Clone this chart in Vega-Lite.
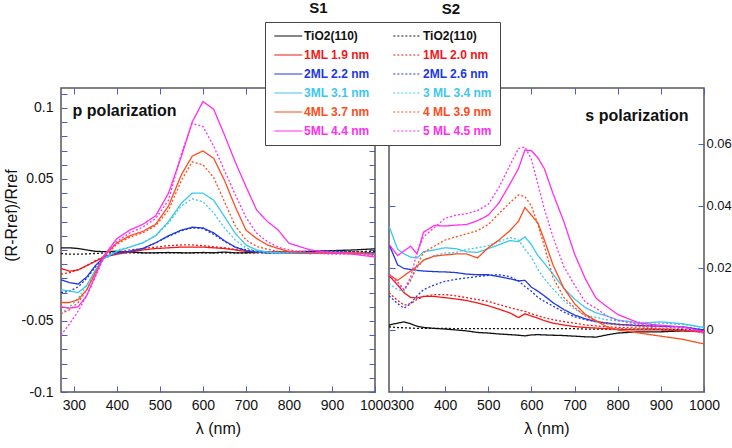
{
"$schema":"https://vega.github.io/schema/vega-lite/v6.json",
"padding":{"left":2,"top":0,"right":0,"bottom":0},
"background":"white",
"config":{"font":"Liberation Sans","view":{"stroke":"#555","strokeWidth":1.5},
"axis":{"labelFont":"Liberation Sans","labelFontSize":14,"labelColor":"#111","titleFont":"Liberation Sans","titleFontSize":16,"titleFontWeight":"normal","titleColor":"#111","tickColor":"#4a5ad8","tickSize":-6,"tickWidth":1,"domain":false,"grid":false,"labelFlush":false,"labelOverlap":false},
"text":{"font":"Liberation Sans","color":"#111"}},
"datasets":{
"p":[
{"s":"TiO2(110)","x":270,"y":0.0015},{"s":"TiO2(110)","x":290,"y":0.0015},{"s":"TiO2(110)","x":310,"y":0.001},{"s":"TiO2(110)","x":330,"y":0},{"s":"TiO2(110)","x":350,"y":-0.001},{"s":"TiO2(110)","x":370,"y":-0.0012},{"s":"TiO2(110)","x":400,"y":-0.001},{"s":"TiO2(110)","x":430,"y":-0.0015},{"s":"TiO2(110)","x":460,"y":-0.002},{"s":"TiO2(110)","x":490,"y":-0.002},{"s":"TiO2(110)","x":520,"y":-0.0018},{"s":"TiO2(110)","x":550,"y":-0.002},{"s":"TiO2(110)","x":575,"y":-0.002},{"s":"TiO2(110)","x":600,"y":-0.0018},{"s":"TiO2(110)","x":625,"y":-0.002},{"s":"TiO2(110)","x":650,"y":-0.0015},{"s":"TiO2(110)","x":675,"y":-0.002},{"s":"TiO2(110)","x":700,"y":-0.002},{"s":"TiO2(110)","x":725,"y":-0.0018},{"s":"TiO2(110)","x":750,"y":-0.0015},{"s":"TiO2(110)","x":775,"y":-0.0015},{"s":"TiO2(110)","x":800,"y":-0.0012},{"s":"TiO2(110)","x":850,"y":-0.001},{"s":"TiO2(110)","x":900,"y":-0.0005},{"s":"TiO2(110)","x":950,"y":0},{"s":"TiO2(110)","x":1000,"y":0.0008},
{"s":"TiO2(110) ","x":270,"y":-0.0025},{"s":"TiO2(110) ","x":290,"y":-0.003},{"s":"TiO2(110) ","x":310,"y":-0.003},{"s":"TiO2(110) ","x":330,"y":-0.0028},{"s":"TiO2(110) ","x":350,"y":-0.0025},{"s":"TiO2(110) ","x":370,"y":-0.0022},{"s":"TiO2(110) ","x":400,"y":-0.002},{"s":"TiO2(110) ","x":430,"y":-0.002},{"s":"TiO2(110) ","x":460,"y":-0.002},{"s":"TiO2(110) ","x":490,"y":-0.002},{"s":"TiO2(110) ","x":520,"y":-0.002},{"s":"TiO2(110) ","x":550,"y":-0.0021},{"s":"TiO2(110) ","x":575,"y":-0.002},{"s":"TiO2(110) ","x":600,"y":-0.002},{"s":"TiO2(110) ","x":625,"y":-0.002},{"s":"TiO2(110) ","x":650,"y":-0.0021},{"s":"TiO2(110) ","x":675,"y":-0.002},{"s":"TiO2(110) ","x":700,"y":-0.002},{"s":"TiO2(110) ","x":725,"y":-0.002},{"s":"TiO2(110) ","x":750,"y":-0.002},{"s":"TiO2(110) ","x":775,"y":-0.002},{"s":"TiO2(110) ","x":800,"y":-0.0019},{"s":"TiO2(110) ","x":850,"y":-0.0018},{"s":"TiO2(110) ","x":900,"y":-0.0015},{"s":"TiO2(110) ","x":950,"y":-0.0012},{"s":"TiO2(110) ","x":1000,"y":-0.001},
{"s":"1ML 1.9 nm","x":270,"y":-0.013},{"s":"1ML 1.9 nm","x":290,"y":-0.015},{"s":"1ML 1.9 nm","x":310,"y":-0.014},{"s":"1ML 1.9 nm","x":330,"y":-0.011},{"s":"1ML 1.9 nm","x":350,"y":-0.008},{"s":"1ML 1.9 nm","x":370,"y":-0.005},{"s":"1ML 1.9 nm","x":400,"y":-0.003},{"s":"1ML 1.9 nm","x":430,"y":-0.0015},{"s":"1ML 1.9 nm","x":460,"y":0},{"s":"1ML 1.9 nm","x":490,"y":0.001},{"s":"1ML 1.9 nm","x":520,"y":0.0015},{"s":"1ML 1.9 nm","x":550,"y":0.002},{"s":"1ML 1.9 nm","x":575,"y":0.002},{"s":"1ML 1.9 nm","x":600,"y":0.002},{"s":"1ML 1.9 nm","x":625,"y":0.0015},{"s":"1ML 1.9 nm","x":650,"y":0.001},{"s":"1ML 1.9 nm","x":675,"y":0},{"s":"1ML 1.9 nm","x":700,"y":-0.001},{"s":"1ML 1.9 nm","x":725,"y":-0.0015},{"s":"1ML 1.9 nm","x":750,"y":-0.002},{"s":"1ML 1.9 nm","x":775,"y":-0.0015},{"s":"1ML 1.9 nm","x":800,"y":-0.002},{"s":"1ML 1.9 nm","x":850,"y":-0.002},{"s":"1ML 1.9 nm","x":900,"y":-0.002},{"s":"1ML 1.9 nm","x":950,"y":-0.002},{"s":"1ML 1.9 nm","x":1000,"y":-0.003},
{"s":"1ML 2.0 nm","x":270,"y":-0.017},{"s":"1ML 2.0 nm","x":290,"y":-0.016},{"s":"1ML 2.0 nm","x":310,"y":-0.014},{"s":"1ML 2.0 nm","x":330,"y":-0.011},{"s":"1ML 2.0 nm","x":350,"y":-0.0075},{"s":"1ML 2.0 nm","x":370,"y":-0.0045},{"s":"1ML 2.0 nm","x":400,"y":-0.0015},{"s":"1ML 2.0 nm","x":430,"y":0},{"s":"1ML 2.0 nm","x":460,"y":0.001},{"s":"1ML 2.0 nm","x":490,"y":0.002},{"s":"1ML 2.0 nm","x":520,"y":0.003},{"s":"1ML 2.0 nm","x":550,"y":0.0035},{"s":"1ML 2.0 nm","x":575,"y":0.0035},{"s":"1ML 2.0 nm","x":600,"y":0.003},{"s":"1ML 2.0 nm","x":625,"y":0.0022},{"s":"1ML 2.0 nm","x":650,"y":0.0015},{"s":"1ML 2.0 nm","x":675,"y":0.0005},{"s":"1ML 2.0 nm","x":700,"y":-0.0005},{"s":"1ML 2.0 nm","x":725,"y":-0.001},{"s":"1ML 2.0 nm","x":750,"y":-0.0015},{"s":"1ML 2.0 nm","x":775,"y":-0.0015},{"s":"1ML 2.0 nm","x":800,"y":-0.0015},{"s":"1ML 2.0 nm","x":850,"y":-0.001},{"s":"1ML 2.0 nm","x":900,"y":-0.001},{"s":"1ML 2.0 nm","x":950,"y":-0.0015},{"s":"1ML 2.0 nm","x":1000,"y":-0.002},
{"s":"2ML 2.2 nm","x":270,"y":-0.021},{"s":"2ML 2.2 nm","x":290,"y":-0.023},{"s":"2ML 2.2 nm","x":310,"y":-0.024},{"s":"2ML 2.2 nm","x":330,"y":-0.019},{"s":"2ML 2.2 nm","x":350,"y":-0.011},{"s":"2ML 2.2 nm","x":370,"y":-0.005},{"s":"2ML 2.2 nm","x":400,"y":-0.002},{"s":"2ML 2.2 nm","x":430,"y":-0.001},{"s":"2ML 2.2 nm","x":460,"y":0.001},{"s":"2ML 2.2 nm","x":490,"y":0.005},{"s":"2ML 2.2 nm","x":520,"y":0.01},{"s":"2ML 2.2 nm","x":550,"y":0.014},{"s":"2ML 2.2 nm","x":575,"y":0.016},{"s":"2ML 2.2 nm","x":600,"y":0.0155},{"s":"2ML 2.2 nm","x":625,"y":0.012},{"s":"2ML 2.2 nm","x":650,"y":0.0065},{"s":"2ML 2.2 nm","x":675,"y":0.002},{"s":"2ML 2.2 nm","x":700,"y":-0.0005},{"s":"2ML 2.2 nm","x":725,"y":-0.0015},{"s":"2ML 2.2 nm","x":750,"y":-0.002},{"s":"2ML 2.2 nm","x":775,"y":-0.002},{"s":"2ML 2.2 nm","x":800,"y":-0.002},{"s":"2ML 2.2 nm","x":850,"y":-0.0025},{"s":"2ML 2.2 nm","x":900,"y":-0.002},{"s":"2ML 2.2 nm","x":950,"y":-0.002},{"s":"2ML 2.2 nm","x":1000,"y":-0.002},
{"s":"2ML 2.6 nm","x":270,"y":-0.03},{"s":"2ML 2.6 nm","x":290,"y":-0.029},{"s":"2ML 2.6 nm","x":310,"y":-0.026},{"s":"2ML 2.6 nm","x":330,"y":-0.02},{"s":"2ML 2.6 nm","x":350,"y":-0.012},{"s":"2ML 2.6 nm","x":370,"y":-0.006},{"s":"2ML 2.6 nm","x":400,"y":-0.002},{"s":"2ML 2.6 nm","x":430,"y":-0.001},{"s":"2ML 2.6 nm","x":460,"y":0.001},{"s":"2ML 2.6 nm","x":490,"y":0.005},{"s":"2ML 2.6 nm","x":520,"y":0.0095},{"s":"2ML 2.6 nm","x":550,"y":0.0135},{"s":"2ML 2.6 nm","x":575,"y":0.0155},{"s":"2ML 2.6 nm","x":600,"y":0.015},{"s":"2ML 2.6 nm","x":625,"y":0.011},{"s":"2ML 2.6 nm","x":650,"y":0.006},{"s":"2ML 2.6 nm","x":675,"y":0.002},{"s":"2ML 2.6 nm","x":700,"y":0},{"s":"2ML 2.6 nm","x":725,"y":-0.001},{"s":"2ML 2.6 nm","x":750,"y":-0.0015},{"s":"2ML 2.6 nm","x":775,"y":-0.0015},{"s":"2ML 2.6 nm","x":800,"y":-0.0015},{"s":"2ML 2.6 nm","x":850,"y":-0.001},{"s":"2ML 2.6 nm","x":900,"y":-0.0005},{"s":"2ML 2.6 nm","x":950,"y":-0.0015},{"s":"2ML 2.6 nm","x":1000,"y":-0.002},
{"s":"3ML 3.1 nm","x":270,"y":-0.028},{"s":"3ML 3.1 nm","x":290,"y":-0.029},{"s":"3ML 3.1 nm","x":310,"y":-0.03},{"s":"3ML 3.1 nm","x":330,"y":-0.025},{"s":"3ML 3.1 nm","x":350,"y":-0.014},{"s":"3ML 3.1 nm","x":370,"y":-0.006},{"s":"3ML 3.1 nm","x":400,"y":-0.001},{"s":"3ML 3.1 nm","x":430,"y":0.002},{"s":"3ML 3.1 nm","x":460,"y":0.005},{"s":"3ML 3.1 nm","x":490,"y":0.01},{"s":"3ML 3.1 nm","x":520,"y":0.02},{"s":"3ML 3.1 nm","x":550,"y":0.033},{"s":"3ML 3.1 nm","x":575,"y":0.04},{"s":"3ML 3.1 nm","x":600,"y":0.04},{"s":"3ML 3.1 nm","x":625,"y":0.035},{"s":"3ML 3.1 nm","x":650,"y":0.0235},{"s":"3ML 3.1 nm","x":675,"y":0.0117},{"s":"3ML 3.1 nm","x":700,"y":0.0035},{"s":"3ML 3.1 nm","x":725,"y":0},{"s":"3ML 3.1 nm","x":750,"y":-0.0015},{"s":"3ML 3.1 nm","x":775,"y":-0.002},{"s":"3ML 3.1 nm","x":800,"y":-0.002},{"s":"3ML 3.1 nm","x":850,"y":-0.002},{"s":"3ML 3.1 nm","x":900,"y":-0.002},{"s":"3ML 3.1 nm","x":950,"y":-0.002},{"s":"3ML 3.1 nm","x":1000,"y":-0.003},
{"s":"3 ML 3.4 nm","x":270,"y":-0.045},{"s":"3 ML 3.4 nm","x":290,"y":-0.04},{"s":"3 ML 3.4 nm","x":310,"y":-0.034},{"s":"3 ML 3.4 nm","x":330,"y":-0.025},{"s":"3 ML 3.4 nm","x":350,"y":-0.015},{"s":"3 ML 3.4 nm","x":370,"y":-0.006},{"s":"3 ML 3.4 nm","x":400,"y":0},{"s":"3 ML 3.4 nm","x":430,"y":0.002},{"s":"3 ML 3.4 nm","x":460,"y":0.005},{"s":"3 ML 3.4 nm","x":490,"y":0.01},{"s":"3 ML 3.4 nm","x":520,"y":0.019},{"s":"3 ML 3.4 nm","x":550,"y":0.031},{"s":"3 ML 3.4 nm","x":575,"y":0.036},{"s":"3 ML 3.4 nm","x":600,"y":0.034},{"s":"3 ML 3.4 nm","x":625,"y":0.026},{"s":"3 ML 3.4 nm","x":650,"y":0.0155},{"s":"3 ML 3.4 nm","x":675,"y":0.007},{"s":"3 ML 3.4 nm","x":700,"y":0.0015},{"s":"3 ML 3.4 nm","x":725,"y":-0.001},{"s":"3 ML 3.4 nm","x":750,"y":-0.002},{"s":"3 ML 3.4 nm","x":775,"y":-0.002},{"s":"3 ML 3.4 nm","x":800,"y":-0.0015},{"s":"3 ML 3.4 nm","x":850,"y":-0.002},{"s":"3 ML 3.4 nm","x":900,"y":-0.0015},{"s":"3 ML 3.4 nm","x":950,"y":-0.002},{"s":"3 ML 3.4 nm","x":1000,"y":-0.003},
{"s":"4ML 3.7 nm","x":270,"y":-0.037},{"s":"4ML 3.7 nm","x":290,"y":-0.037},{"s":"4ML 3.7 nm","x":310,"y":-0.035},{"s":"4ML 3.7 nm","x":330,"y":-0.028},{"s":"4ML 3.7 nm","x":350,"y":-0.016},{"s":"4ML 3.7 nm","x":370,"y":-0.004},{"s":"4ML 3.7 nm","x":400,"y":0.005},{"s":"4ML 3.7 nm","x":430,"y":0.01},{"s":"4ML 3.7 nm","x":460,"y":0.013},{"s":"4ML 3.7 nm","x":490,"y":0.018},{"s":"4ML 3.7 nm","x":520,"y":0.031},{"s":"4ML 3.7 nm","x":550,"y":0.053},{"s":"4ML 3.7 nm","x":575,"y":0.066},{"s":"4ML 3.7 nm","x":600,"y":0.0697},{"s":"4ML 3.7 nm","x":625,"y":0.0645},{"s":"4ML 3.7 nm","x":650,"y":0.049},{"s":"4ML 3.7 nm","x":675,"y":0.0305},{"s":"4ML 3.7 nm","x":700,"y":0.014},{"s":"4ML 3.7 nm","x":725,"y":0.008},{"s":"4ML 3.7 nm","x":750,"y":0.0035},{"s":"4ML 3.7 nm","x":775,"y":0.001},{"s":"4ML 3.7 nm","x":800,"y":-0.001},{"s":"4ML 3.7 nm","x":850,"y":-0.002},{"s":"4ML 3.7 nm","x":900,"y":-0.002},{"s":"4ML 3.7 nm","x":950,"y":-0.002},{"s":"4ML 3.7 nm","x":1000,"y":-0.003},
{"s":"4 ML 3.9 nm","x":270,"y":-0.045},{"s":"4 ML 3.9 nm","x":290,"y":-0.042},{"s":"4 ML 3.9 nm","x":310,"y":-0.037},{"s":"4 ML 3.9 nm","x":330,"y":-0.028},{"s":"4 ML 3.9 nm","x":350,"y":-0.016},{"s":"4 ML 3.9 nm","x":370,"y":-0.005},{"s":"4 ML 3.9 nm","x":400,"y":0.004},{"s":"4 ML 3.9 nm","x":430,"y":0.009},{"s":"4 ML 3.9 nm","x":460,"y":0.012},{"s":"4 ML 3.9 nm","x":490,"y":0.017},{"s":"4 ML 3.9 nm","x":520,"y":0.028},{"s":"4 ML 3.9 nm","x":550,"y":0.049},{"s":"4 ML 3.9 nm","x":575,"y":0.062},{"s":"4 ML 3.9 nm","x":600,"y":0.06},{"s":"4 ML 3.9 nm","x":625,"y":0.051},{"s":"4 ML 3.9 nm","x":650,"y":0.034},{"s":"4 ML 3.9 nm","x":675,"y":0.017},{"s":"4 ML 3.9 nm","x":700,"y":0.007},{"s":"4 ML 3.9 nm","x":725,"y":0.0025},{"s":"4 ML 3.9 nm","x":750,"y":0.0005},{"s":"4 ML 3.9 nm","x":775,"y":-0.001},{"s":"4 ML 3.9 nm","x":800,"y":-0.0015},{"s":"4 ML 3.9 nm","x":850,"y":-0.002},{"s":"4 ML 3.9 nm","x":900,"y":-0.002},{"s":"4 ML 3.9 nm","x":950,"y":-0.0025},{"s":"4 ML 3.9 nm","x":1000,"y":-0.003},
{"s":"5ML 4.4 nm","x":270,"y":-0.04},{"s":"5ML 4.4 nm","x":290,"y":-0.041},{"s":"5ML 4.4 nm","x":310,"y":-0.04},{"s":"5ML 4.4 nm","x":330,"y":-0.032},{"s":"5ML 4.4 nm","x":350,"y":-0.018},{"s":"5ML 4.4 nm","x":370,"y":-0.004},{"s":"5ML 4.4 nm","x":400,"y":0.008},{"s":"5ML 4.4 nm","x":430,"y":0.014},{"s":"5ML 4.4 nm","x":460,"y":0.018},{"s":"5ML 4.4 nm","x":490,"y":0.024},{"s":"5ML 4.4 nm","x":520,"y":0.04},{"s":"5ML 4.4 nm","x":550,"y":0.066},{"s":"5ML 4.4 nm","x":575,"y":0.09},{"s":"5ML 4.4 nm","x":600,"y":0.1045},{"s":"5ML 4.4 nm","x":625,"y":0.099},{"s":"5ML 4.4 nm","x":650,"y":0.081},{"s":"5ML 4.4 nm","x":675,"y":0.062},{"s":"5ML 4.4 nm","x":700,"y":0.0446},{"s":"5ML 4.4 nm","x":725,"y":0.028},{"s":"5ML 4.4 nm","x":750,"y":0.02},{"s":"5ML 4.4 nm","x":775,"y":0.014},{"s":"5ML 4.4 nm","x":800,"y":0.0047},{"s":"5ML 4.4 nm","x":850,"y":0},{"s":"5ML 4.4 nm","x":900,"y":-0.002},{"s":"5ML 4.4 nm","x":950,"y":-0.003},{"s":"5ML 4.4 nm","x":1000,"y":-0.005},
{"s":"5 ML 4.5 nm","x":270,"y":-0.06},{"s":"5 ML 4.5 nm","x":290,"y":-0.052},{"s":"5 ML 4.5 nm","x":310,"y":-0.043},{"s":"5 ML 4.5 nm","x":330,"y":-0.032},{"s":"5 ML 4.5 nm","x":350,"y":-0.019},{"s":"5 ML 4.5 nm","x":370,"y":-0.005},{"s":"5 ML 4.5 nm","x":400,"y":0.006},{"s":"5 ML 4.5 nm","x":430,"y":0.012},{"s":"5 ML 4.5 nm","x":460,"y":0.016},{"s":"5 ML 4.5 nm","x":490,"y":0.022},{"s":"5 ML 4.5 nm","x":520,"y":0.035},{"s":"5 ML 4.5 nm","x":550,"y":0.068},{"s":"5 ML 4.5 nm","x":575,"y":0.089},{"s":"5 ML 4.5 nm","x":600,"y":0.087},{"s":"5 ML 4.5 nm","x":625,"y":0.073},{"s":"5 ML 4.5 nm","x":650,"y":0.056},{"s":"5 ML 4.5 nm","x":675,"y":0.039},{"s":"5 ML 4.5 nm","x":700,"y":0.023},{"s":"5 ML 4.5 nm","x":725,"y":0.0117},{"s":"5 ML 4.5 nm","x":750,"y":0.0059},{"s":"5 ML 4.5 nm","x":775,"y":0.002},{"s":"5 ML 4.5 nm","x":800,"y":0},{"s":"5 ML 4.5 nm","x":850,"y":-0.002},{"s":"5 ML 4.5 nm","x":900,"y":-0.003},{"s":"5 ML 4.5 nm","x":950,"y":-0.003},{"s":"5 ML 4.5 nm","x":1000,"y":-0.004}
],
"s":[
{"s":"TiO2(110)","x":270,"y":0.0016},{"s":"TiO2(110)","x":290,"y":0.0022},{"s":"TiO2(110)","x":305,"y":0.0026},{"s":"TiO2(110)","x":320,"y":0.002},{"s":"TiO2(110)","x":335,"y":0.0012},{"s":"TiO2(110)","x":350,"y":0.0008},{"s":"TiO2(110)","x":375,"y":0.0005},{"s":"TiO2(110)","x":400,"y":0.0003},{"s":"TiO2(110)","x":425,"y":0},{"s":"TiO2(110)","x":450,"y":-0.0003},{"s":"TiO2(110)","x":475,"y":-0.0008},{"s":"TiO2(110)","x":500,"y":-0.001},{"s":"TiO2(110)","x":525,"y":-0.0013},{"s":"TiO2(110)","x":550,"y":-0.0015},{"s":"TiO2(110)","x":570,"y":-0.0017},{"s":"TiO2(110)","x":585,"y":-0.0019},{"s":"TiO2(110)","x":600,"y":-0.0016},{"s":"TiO2(110)","x":615,"y":-0.0015},{"s":"TiO2(110)","x":630,"y":-0.0016},{"s":"TiO2(110)","x":650,"y":-0.0017},{"s":"TiO2(110)","x":675,"y":-0.0018},{"s":"TiO2(110)","x":700,"y":-0.002},{"s":"TiO2(110)","x":725,"y":-0.0022},{"s":"TiO2(110)","x":750,"y":-0.0023},{"s":"TiO2(110)","x":775,"y":-0.0016},{"s":"TiO2(110)","x":800,"y":-0.001},{"s":"TiO2(110)","x":850,"y":-0.0006},{"s":"TiO2(110)","x":900,"y":-0.0006},{"s":"TiO2(110)","x":950,"y":-0.0003},{"s":"TiO2(110)","x":1000,"y":-0.0006},
{"s":"TiO2(110) ","x":270,"y":0.001},{"s":"TiO2(110) ","x":290,"y":0.0008},{"s":"TiO2(110) ","x":305,"y":0.0007},{"s":"TiO2(110) ","x":320,"y":0.0006},{"s":"TiO2(110) ","x":335,"y":0.0005},{"s":"TiO2(110) ","x":350,"y":0.0005},{"s":"TiO2(110) ","x":375,"y":0.0005},{"s":"TiO2(110) ","x":400,"y":0.0005},{"s":"TiO2(110) ","x":425,"y":0.0004},{"s":"TiO2(110) ","x":450,"y":0.0004},{"s":"TiO2(110) ","x":475,"y":0.0004},{"s":"TiO2(110) ","x":500,"y":0.0004},{"s":"TiO2(110) ","x":525,"y":0.0004},{"s":"TiO2(110) ","x":550,"y":0.0004},{"s":"TiO2(110) ","x":570,"y":0.0004},{"s":"TiO2(110) ","x":585,"y":0.0004},{"s":"TiO2(110) ","x":600,"y":0.0004},{"s":"TiO2(110) ","x":615,"y":0.0004},{"s":"TiO2(110) ","x":630,"y":0.0004},{"s":"TiO2(110) ","x":650,"y":0.0004},{"s":"TiO2(110) ","x":675,"y":0.0004},{"s":"TiO2(110) ","x":700,"y":0.0004},{"s":"TiO2(110) ","x":725,"y":0.0003},{"s":"TiO2(110) ","x":750,"y":0.0003},{"s":"TiO2(110) ","x":775,"y":0.0003},{"s":"TiO2(110) ","x":800,"y":0.0003},{"s":"TiO2(110) ","x":850,"y":0.0003},{"s":"TiO2(110) ","x":900,"y":0.0002},{"s":"TiO2(110) ","x":950,"y":0.0002},{"s":"TiO2(110) ","x":1000,"y":0},
{"s":"1ML 1.9 nm","x":270,"y":0.0175},{"s":"1ML 1.9 nm","x":290,"y":0.0145},{"s":"1ML 1.9 nm","x":305,"y":0.012},{"s":"1ML 1.9 nm","x":320,"y":0.0105},{"s":"1ML 1.9 nm","x":335,"y":0.0103},{"s":"1ML 1.9 nm","x":350,"y":0.0108},{"s":"1ML 1.9 nm","x":375,"y":0.0108},{"s":"1ML 1.9 nm","x":400,"y":0.0104},{"s":"1ML 1.9 nm","x":425,"y":0.01},{"s":"1ML 1.9 nm","x":450,"y":0.0095},{"s":"1ML 1.9 nm","x":475,"y":0.0087},{"s":"1ML 1.9 nm","x":500,"y":0.0078},{"s":"1ML 1.9 nm","x":525,"y":0.0067},{"s":"1ML 1.9 nm","x":550,"y":0.0055},{"s":"1ML 1.9 nm","x":570,"y":0.004},{"s":"1ML 1.9 nm","x":585,"y":0.0052},{"s":"1ML 1.9 nm","x":600,"y":0.0045},{"s":"1ML 1.9 nm","x":615,"y":0.0038},{"s":"1ML 1.9 nm","x":630,"y":0.003},{"s":"1ML 1.9 nm","x":650,"y":0.0022},{"s":"1ML 1.9 nm","x":675,"y":0.0016},{"s":"1ML 1.9 nm","x":700,"y":0.0011},{"s":"1ML 1.9 nm","x":725,"y":0.0008},{"s":"1ML 1.9 nm","x":750,"y":0.0006},{"s":"1ML 1.9 nm","x":775,"y":0.0004},{"s":"1ML 1.9 nm","x":800,"y":0.0002},{"s":"1ML 1.9 nm","x":850,"y":0},{"s":"1ML 1.9 nm","x":900,"y":0},{"s":"1ML 1.9 nm","x":950,"y":-0.0002},{"s":"1ML 1.9 nm","x":1000,"y":-0.0005},
{"s":"1ML 2.0 nm","x":270,"y":0.012},{"s":"1ML 2.0 nm","x":290,"y":0.0095},{"s":"1ML 2.0 nm","x":305,"y":0.008},{"s":"1ML 2.0 nm","x":320,"y":0.0085},{"s":"1ML 2.0 nm","x":335,"y":0.0098},{"s":"1ML 2.0 nm","x":350,"y":0.0108},{"s":"1ML 2.0 nm","x":375,"y":0.0114},{"s":"1ML 2.0 nm","x":400,"y":0.0114},{"s":"1ML 2.0 nm","x":425,"y":0.011},{"s":"1ML 2.0 nm","x":450,"y":0.0104},{"s":"1ML 2.0 nm","x":475,"y":0.0098},{"s":"1ML 2.0 nm","x":500,"y":0.0092},{"s":"1ML 2.0 nm","x":525,"y":0.0082},{"s":"1ML 2.0 nm","x":550,"y":0.0072},{"s":"1ML 2.0 nm","x":570,"y":0.0065},{"s":"1ML 2.0 nm","x":585,"y":0.006},{"s":"1ML 2.0 nm","x":600,"y":0.0052},{"s":"1ML 2.0 nm","x":615,"y":0.0046},{"s":"1ML 2.0 nm","x":630,"y":0.004},{"s":"1ML 2.0 nm","x":650,"y":0.0033},{"s":"1ML 2.0 nm","x":675,"y":0.0027},{"s":"1ML 2.0 nm","x":700,"y":0.0022},{"s":"1ML 2.0 nm","x":725,"y":0.0016},{"s":"1ML 2.0 nm","x":750,"y":0.0013},{"s":"1ML 2.0 nm","x":775,"y":0.001},{"s":"1ML 2.0 nm","x":800,"y":0.0008},{"s":"1ML 2.0 nm","x":850,"y":0.0006},{"s":"1ML 2.0 nm","x":900,"y":0.0004},{"s":"1ML 2.0 nm","x":950,"y":0},{"s":"1ML 2.0 nm","x":1000,"y":-0.0005},
{"s":"2ML 2.2 nm","x":270,"y":0.0276},{"s":"2ML 2.2 nm","x":290,"y":0.021},{"s":"2ML 2.2 nm","x":305,"y":0.0198},{"s":"2ML 2.2 nm","x":320,"y":0.0195},{"s":"2ML 2.2 nm","x":335,"y":0.0192},{"s":"2ML 2.2 nm","x":350,"y":0.019},{"s":"2ML 2.2 nm","x":375,"y":0.0188},{"s":"2ML 2.2 nm","x":400,"y":0.0187},{"s":"2ML 2.2 nm","x":425,"y":0.0185},{"s":"2ML 2.2 nm","x":450,"y":0.018},{"s":"2ML 2.2 nm","x":475,"y":0.0178},{"s":"2ML 2.2 nm","x":500,"y":0.0178},{"s":"2ML 2.2 nm","x":525,"y":0.0172},{"s":"2ML 2.2 nm","x":550,"y":0.0165},{"s":"2ML 2.2 nm","x":570,"y":0.0158},{"s":"2ML 2.2 nm","x":585,"y":0.016},{"s":"2ML 2.2 nm","x":600,"y":0.0138},{"s":"2ML 2.2 nm","x":615,"y":0.0125},{"s":"2ML 2.2 nm","x":630,"y":0.011},{"s":"2ML 2.2 nm","x":650,"y":0.0088},{"s":"2ML 2.2 nm","x":675,"y":0.0066},{"s":"2ML 2.2 nm","x":700,"y":0.0048},{"s":"2ML 2.2 nm","x":725,"y":0.0036},{"s":"2ML 2.2 nm","x":750,"y":0.0027},{"s":"2ML 2.2 nm","x":775,"y":0.0022},{"s":"2ML 2.2 nm","x":800,"y":0.0018},{"s":"2ML 2.2 nm","x":850,"y":0.0014},{"s":"2ML 2.2 nm","x":900,"y":0.0012},{"s":"2ML 2.2 nm","x":950,"y":0.001},{"s":"2ML 2.2 nm","x":1000,"y":0},
{"s":"2ML 2.6 nm","x":270,"y":0.011},{"s":"2ML 2.6 nm","x":290,"y":0.0085},{"s":"2ML 2.6 nm","x":305,"y":0.007},{"s":"2ML 2.6 nm","x":320,"y":0.0085},{"s":"2ML 2.6 nm","x":335,"y":0.011},{"s":"2ML 2.6 nm","x":350,"y":0.013},{"s":"2ML 2.6 nm","x":375,"y":0.0145},{"s":"2ML 2.6 nm","x":400,"y":0.0157},{"s":"2ML 2.6 nm","x":425,"y":0.0163},{"s":"2ML 2.6 nm","x":450,"y":0.0168},{"s":"2ML 2.6 nm","x":475,"y":0.0172},{"s":"2ML 2.6 nm","x":500,"y":0.0176},{"s":"2ML 2.6 nm","x":525,"y":0.0178},{"s":"2ML 2.6 nm","x":550,"y":0.0172},{"s":"2ML 2.6 nm","x":570,"y":0.0158},{"s":"2ML 2.6 nm","x":585,"y":0.014},{"s":"2ML 2.6 nm","x":600,"y":0.0125},{"s":"2ML 2.6 nm","x":615,"y":0.0105},{"s":"2ML 2.6 nm","x":630,"y":0.0092},{"s":"2ML 2.6 nm","x":650,"y":0.0077},{"s":"2ML 2.6 nm","x":675,"y":0.0058},{"s":"2ML 2.6 nm","x":700,"y":0.0042},{"s":"2ML 2.6 nm","x":725,"y":0.0033},{"s":"2ML 2.6 nm","x":750,"y":0.0027},{"s":"2ML 2.6 nm","x":775,"y":0.0022},{"s":"2ML 2.6 nm","x":800,"y":0.0018},{"s":"2ML 2.6 nm","x":850,"y":0.0014},{"s":"2ML 2.6 nm","x":900,"y":0.0012},{"s":"2ML 2.6 nm","x":950,"y":0.001},{"s":"2ML 2.6 nm","x":1000,"y":0},
{"s":"3ML 3.1 nm","x":270,"y":0.0335},{"s":"3ML 3.1 nm","x":290,"y":0.026},{"s":"3ML 3.1 nm","x":305,"y":0.0245},{"s":"3ML 3.1 nm","x":320,"y":0.0235},{"s":"3ML 3.1 nm","x":335,"y":0.0232},{"s":"3ML 3.1 nm","x":350,"y":0.0252},{"s":"3ML 3.1 nm","x":375,"y":0.0258},{"s":"3ML 3.1 nm","x":400,"y":0.0265},{"s":"3ML 3.1 nm","x":425,"y":0.0262},{"s":"3ML 3.1 nm","x":450,"y":0.0252},{"s":"3ML 3.1 nm","x":475,"y":0.025},{"s":"3ML 3.1 nm","x":500,"y":0.0262},{"s":"3ML 3.1 nm","x":525,"y":0.0275},{"s":"3ML 3.1 nm","x":550,"y":0.0288},{"s":"3ML 3.1 nm","x":570,"y":0.0285},{"s":"3ML 3.1 nm","x":585,"y":0.03},{"s":"3ML 3.1 nm","x":600,"y":0.0275},{"s":"3ML 3.1 nm","x":615,"y":0.024},{"s":"3ML 3.1 nm","x":630,"y":0.0215},{"s":"3ML 3.1 nm","x":650,"y":0.018},{"s":"3ML 3.1 nm","x":675,"y":0.0135},{"s":"3ML 3.1 nm","x":700,"y":0.01},{"s":"3ML 3.1 nm","x":725,"y":0.0072},{"s":"3ML 3.1 nm","x":750,"y":0.0055},{"s":"3ML 3.1 nm","x":775,"y":0.0045},{"s":"3ML 3.1 nm","x":800,"y":0.0032},{"s":"3ML 3.1 nm","x":850,"y":0.0022},{"s":"3ML 3.1 nm","x":900,"y":0.0026},{"s":"3ML 3.1 nm","x":950,"y":0.002},{"s":"3ML 3.1 nm","x":1000,"y":0.0008},
{"s":"3 ML 3.4 nm","x":270,"y":0.015},{"s":"3 ML 3.4 nm","x":290,"y":0.013},{"s":"3 ML 3.4 nm","x":305,"y":0.0125},{"s":"3 ML 3.4 nm","x":320,"y":0.016},{"s":"3 ML 3.4 nm","x":335,"y":0.02},{"s":"3 ML 3.4 nm","x":350,"y":0.0225},{"s":"3 ML 3.4 nm","x":375,"y":0.024},{"s":"3 ML 3.4 nm","x":400,"y":0.0248},{"s":"3 ML 3.4 nm","x":425,"y":0.025},{"s":"3 ML 3.4 nm","x":450,"y":0.026},{"s":"3 ML 3.4 nm","x":475,"y":0.0265},{"s":"3 ML 3.4 nm","x":500,"y":0.0272},{"s":"3 ML 3.4 nm","x":525,"y":0.0285},{"s":"3 ML 3.4 nm","x":550,"y":0.0298},{"s":"3 ML 3.4 nm","x":570,"y":0.029},{"s":"3 ML 3.4 nm","x":585,"y":0.026},{"s":"3 ML 3.4 nm","x":600,"y":0.0235},{"s":"3 ML 3.4 nm","x":615,"y":0.0195},{"s":"3 ML 3.4 nm","x":630,"y":0.0165},{"s":"3 ML 3.4 nm","x":650,"y":0.0133},{"s":"3 ML 3.4 nm","x":675,"y":0.0095},{"s":"3 ML 3.4 nm","x":700,"y":0.0068},{"s":"3 ML 3.4 nm","x":725,"y":0.0048},{"s":"3 ML 3.4 nm","x":750,"y":0.004},{"s":"3 ML 3.4 nm","x":775,"y":0.0033},{"s":"3 ML 3.4 nm","x":800,"y":0.003},{"s":"3 ML 3.4 nm","x":850,"y":0.0025},{"s":"3 ML 3.4 nm","x":900,"y":0.0022},{"s":"3 ML 3.4 nm","x":950,"y":0.0018},{"s":"3 ML 3.4 nm","x":1000,"y":0.0008},
{"s":"4ML 3.7 nm","x":270,"y":0.0178},{"s":"4ML 3.7 nm","x":290,"y":0.016},{"s":"4ML 3.7 nm","x":305,"y":0.0175},{"s":"4ML 3.7 nm","x":320,"y":0.019},{"s":"4ML 3.7 nm","x":335,"y":0.0205},{"s":"4ML 3.7 nm","x":350,"y":0.0225},{"s":"4ML 3.7 nm","x":375,"y":0.0238},{"s":"4ML 3.7 nm","x":400,"y":0.0242},{"s":"4ML 3.7 nm","x":425,"y":0.0245},{"s":"4ML 3.7 nm","x":450,"y":0.0245},{"s":"4ML 3.7 nm","x":475,"y":0.0232},{"s":"4ML 3.7 nm","x":500,"y":0.0265},{"s":"4ML 3.7 nm","x":525,"y":0.029},{"s":"4ML 3.7 nm","x":550,"y":0.032},{"s":"4ML 3.7 nm","x":570,"y":0.035},{"s":"4ML 3.7 nm","x":585,"y":0.0395},{"s":"4ML 3.7 nm","x":600,"y":0.037},{"s":"4ML 3.7 nm","x":615,"y":0.0345},{"s":"4ML 3.7 nm","x":630,"y":0.029},{"s":"4ML 3.7 nm","x":650,"y":0.021},{"s":"4ML 3.7 nm","x":675,"y":0.0135},{"s":"4ML 3.7 nm","x":700,"y":0.0085},{"s":"4ML 3.7 nm","x":725,"y":0.005},{"s":"4ML 3.7 nm","x":750,"y":0.003},{"s":"4ML 3.7 nm","x":775,"y":0.001},{"s":"4ML 3.7 nm","x":800,"y":0},{"s":"4ML 3.7 nm","x":850,"y":-0.001},{"s":"4ML 3.7 nm","x":900,"y":-0.002},{"s":"4ML 3.7 nm","x":950,"y":-0.003},{"s":"4ML 3.7 nm","x":1000,"y":-0.0045},
{"s":"4 ML 3.9 nm","x":270,"y":0.018},{"s":"4 ML 3.9 nm","x":290,"y":0.0155},{"s":"4 ML 3.9 nm","x":305,"y":0.013},{"s":"4 ML 3.9 nm","x":320,"y":0.016},{"s":"4 ML 3.9 nm","x":335,"y":0.021},{"s":"4 ML 3.9 nm","x":350,"y":0.025},{"s":"4 ML 3.9 nm","x":375,"y":0.027},{"s":"4 ML 3.9 nm","x":400,"y":0.029},{"s":"4 ML 3.9 nm","x":425,"y":0.03},{"s":"4 ML 3.9 nm","x":450,"y":0.031},{"s":"4 ML 3.9 nm","x":475,"y":0.032},{"s":"4 ML 3.9 nm","x":500,"y":0.034},{"s":"4 ML 3.9 nm","x":525,"y":0.0375},{"s":"4 ML 3.9 nm","x":550,"y":0.041},{"s":"4 ML 3.9 nm","x":570,"y":0.0435},{"s":"4 ML 3.9 nm","x":585,"y":0.043},{"s":"4 ML 3.9 nm","x":600,"y":0.04},{"s":"4 ML 3.9 nm","x":615,"y":0.034},{"s":"4 ML 3.9 nm","x":630,"y":0.027},{"s":"4 ML 3.9 nm","x":650,"y":0.017},{"s":"4 ML 3.9 nm","x":675,"y":0.0105},{"s":"4 ML 3.9 nm","x":700,"y":0.0072},{"s":"4 ML 3.9 nm","x":725,"y":0.0045},{"s":"4 ML 3.9 nm","x":750,"y":0.0028},{"s":"4 ML 3.9 nm","x":775,"y":0.002},{"s":"4 ML 3.9 nm","x":800,"y":0.0016},{"s":"4 ML 3.9 nm","x":850,"y":0.0012},{"s":"4 ML 3.9 nm","x":900,"y":0.0005},{"s":"4 ML 3.9 nm","x":950,"y":0},{"s":"4 ML 3.9 nm","x":1000,"y":-0.001},
{"s":"5ML 4.4 nm","x":270,"y":0.0276},{"s":"5ML 4.4 nm","x":290,"y":0.024},{"s":"5ML 4.4 nm","x":305,"y":0.0255},{"s":"5ML 4.4 nm","x":320,"y":0.027},{"s":"5ML 4.4 nm","x":335,"y":0.0245},{"s":"5ML 4.4 nm","x":350,"y":0.0315},{"s":"5ML 4.4 nm","x":375,"y":0.0337},{"s":"5ML 4.4 nm","x":400,"y":0.0335},{"s":"5ML 4.4 nm","x":425,"y":0.0338},{"s":"5ML 4.4 nm","x":450,"y":0.034},{"s":"5ML 4.4 nm","x":475,"y":0.0352},{"s":"5ML 4.4 nm","x":500,"y":0.037},{"s":"5ML 4.4 nm","x":525,"y":0.041},{"s":"5ML 4.4 nm","x":550,"y":0.047},{"s":"5ML 4.4 nm","x":570,"y":0.052},{"s":"5ML 4.4 nm","x":585,"y":0.058},{"s":"5ML 4.4 nm","x":600,"y":0.0578},{"s":"5ML 4.4 nm","x":615,"y":0.0555},{"s":"5ML 4.4 nm","x":630,"y":0.052},{"s":"5ML 4.4 nm","x":650,"y":0.044},{"s":"5ML 4.4 nm","x":675,"y":0.035},{"s":"5ML 4.4 nm","x":700,"y":0.0245},{"s":"5ML 4.4 nm","x":725,"y":0.0165},{"s":"5ML 4.4 nm","x":750,"y":0.0102},{"s":"5ML 4.4 nm","x":775,"y":0.0075},{"s":"5ML 4.4 nm","x":800,"y":0.005},{"s":"5ML 4.4 nm","x":850,"y":0.0022},{"s":"5ML 4.4 nm","x":900,"y":0.0015},{"s":"5ML 4.4 nm","x":950,"y":0.001},{"s":"5ML 4.4 nm","x":1000,"y":-0.0005},
{"s":"5 ML 4.5 nm","x":270,"y":0.018},{"s":"5 ML 4.5 nm","x":290,"y":0.0145},{"s":"5 ML 4.5 nm","x":305,"y":0.013},{"s":"5 ML 4.5 nm","x":320,"y":0.017},{"s":"5 ML 4.5 nm","x":335,"y":0.025},{"s":"5 ML 4.5 nm","x":350,"y":0.03},{"s":"5 ML 4.5 nm","x":375,"y":0.033},{"s":"5 ML 4.5 nm","x":400,"y":0.036},{"s":"5 ML 4.5 nm","x":425,"y":0.037},{"s":"5 ML 4.5 nm","x":450,"y":0.0375},{"s":"5 ML 4.5 nm","x":475,"y":0.0385},{"s":"5 ML 4.5 nm","x":500,"y":0.0405},{"s":"5 ML 4.5 nm","x":525,"y":0.046},{"s":"5 ML 4.5 nm","x":550,"y":0.053},{"s":"5 ML 4.5 nm","x":570,"y":0.0585},{"s":"5 ML 4.5 nm","x":585,"y":0.059},{"s":"5 ML 4.5 nm","x":600,"y":0.055},{"s":"5 ML 4.5 nm","x":615,"y":0.047},{"s":"5 ML 4.5 nm","x":630,"y":0.039},{"s":"5 ML 4.5 nm","x":650,"y":0.03},{"s":"5 ML 4.5 nm","x":675,"y":0.0205},{"s":"5 ML 4.5 nm","x":700,"y":0.0145},{"s":"5 ML 4.5 nm","x":725,"y":0.009},{"s":"5 ML 4.5 nm","x":750,"y":0.007},{"s":"5 ML 4.5 nm","x":775,"y":0.0045},{"s":"5 ML 4.5 nm","x":800,"y":0.003},{"s":"5 ML 4.5 nm","x":850,"y":0.0018},{"s":"5 ML 4.5 nm","x":900,"y":0.001},{"s":"5 ML 4.5 nm","x":950,"y":0.0005},{"s":"5 ML 4.5 nm","x":1000,"y":-0.001}
]},
"hconcat":[
{"width":314,"height":304,
"layer":[
{"data":{"name":"p"},"mark":{"type":"line","strokeWidth":1.3,"clip":true},
"encoding":{
"x":{"field":"x","type":"quantitative","scale":{"domain":[270,1000],"nice":false,"zero":false},"axis":{"orient":"bottom","values":[300,400,500,600,700,800,900,1000],"format":"d","title":"λ (nm)","labelPadding":12,"titlePadding":8}},
"y":{"field":"y","type":"quantitative","scale":{"domain":[-0.1,0.114],"nice":false,"zero":false},"axis":{"orient":"left","values":[-0.1,-0.09,-0.08,-0.07,-0.06,-0.05,-0.04,-0.03,-0.02,-0.01,0,0.01,0.02,0.03,0.04,0.05,0.06,0.07,0.08,0.09,0.1,0.11],"labelExpr":"round(datum.value*100) % 5 == 0 ? replace(format(datum.value, '~g'), '\u2212', '-') : ''","title":"(R-Rref)/Rref","labelPadding":14,"titleX":-42,"titleY":127,"titleAngle":270,"titleBaseline":"bottom"}},
"color":{"field":"s","type":"nominal","scale":{"domain":["TiO2(110)","1ML 1.9 nm","2ML 2.2 nm","3ML 3.1 nm","4ML 3.7 nm","5ML 4.4 nm","TiO2(110) ","1ML 2.0 nm","2ML 2.6 nm","3 ML 3.4 nm","4 ML 3.9 nm","5 ML 4.5 nm"],"range":["#111111","#f01818","#2038e0","#3cc8ec","#ff4c1c","#ff2ef0","#111111","#f01818","#2038e0","#3cc8ec","#ff4c1c","#ff2ef0"]},
"legend":{"orient":"none","legendX":204,"legendY":-66,"columns":2,"title":null,"strokeColor":"#444","fillColor":"white","padding":8,"symbolType":"M-1,0H5","symbolSize":87,"symbolStrokeWidth":1.2,"labelFont":"Liberation Sans","labelFontSize":12,"labelFontWeight":"bold","labelAlign":"left","labelOffset":19,"columnPadding":20,"rowPadding":7,"labelLimit":200,"zindex":1,
"encode":{"labels":{"update":{"fill":{"scale":"color","field":"value"}}},"symbols":{"update":{"stroke":{"scale":"color","field":"value"},"strokeDash":{"scale":"strokeDash","field":"value"},"fill":{"value":"transparent"}}}}}},
"strokeDash":{"field":"s","type":"nominal","scale":{"domain":["TiO2(110)","1ML 1.9 nm","2ML 2.2 nm","3ML 3.1 nm","4ML 3.7 nm","5ML 4.4 nm","TiO2(110) ","1ML 2.0 nm","2ML 2.6 nm","3 ML 3.4 nm","4 ML 3.9 nm","5 ML 4.5 nm"],"range":[[1,0],[1,0],[1,0],[1,0],[1,0],[1,0],[2,2],[2,2],[2,2],[2,2],[2,2],[2,2]]}}
}},
{"data":{"values":[{}]},"mark":{"type":"text","align":"left","baseline":"middle","fontSize":16,"fontWeight":"bold","clip":false},
"encoding":{
"x":{"datum":297,"type":"quantitative","scale":{"domain":[270,1000],"nice":false,"zero":false},"axis":{"orient":"top","values":[300,400,500,600,700,800,900,1000],"labels":false,"title":null}},
"y":{"datum":0.098,"type":"quantitative","scale":{"domain":[-0.1,0.114],"nice":false,"zero":false},"axis":{"orient":"right","values":[-0.1,-0.09,-0.08,-0.07,-0.06,-0.05,-0.04,-0.03,-0.02,-0.01,0,0.01,0.02,0.03,0.04,0.05,0.06,0.07,0.08,0.09,0.1,0.11],"labels":false,"title":null}},
"text":{"value":"p polarization"}}},
{"data":{"values":[{}]},"mark":{"type":"text","align":"center","baseline":"middle","fontSize":15,"fontWeight":"bold","clip":false},
"encoding":{
"x":{"datum":868.6,"type":"quantitative","scale":{"domain":[270,1000],"nice":false,"zero":false},"axis":null},
"y":{"datum":0.1704,"type":"quantitative","scale":{"domain":[-0.1,0.114],"nice":false,"zero":false},"axis":null},
"text":{"value":"S1"}}}
],
"resolve":{"axis":{"x":"independent","y":"independent"}}},
{"width":315,"height":304,
"layer":[
{"data":{"name":"s"},"mark":{"type":"line","strokeWidth":1.3,"clip":true},
"encoding":{
"x":{"field":"x","type":"quantitative","scale":{"domain":[270,1000],"nice":false,"zero":false},"axis":{"orient":"bottom","values":[300,400,500,600,700,800,900,1000],"format":"d","title":"λ (nm)","labelPadding":12,"titlePadding":8}},
"y":{"field":"y","type":"quantitative","scale":{"domain":[-0.02,0.078],"nice":false,"zero":false},"axis":{"orient":"right","values":[0,0.02,0.04,0.06],"format":"~g","title":null,"labelPadding":8,"labelFontSize":13}},
"color":{"field":"s","type":"nominal","scale":{"domain":["TiO2(110)","1ML 1.9 nm","2ML 2.2 nm","3ML 3.1 nm","4ML 3.7 nm","5ML 4.4 nm","TiO2(110) ","1ML 2.0 nm","2ML 2.6 nm","3 ML 3.4 nm","4 ML 3.9 nm","5 ML 4.5 nm"],"range":["#111111","#f01818","#2038e0","#3cc8ec","#ff4c1c","#ff2ef0","#111111","#f01818","#2038e0","#3cc8ec","#ff4c1c","#ff2ef0"]},
"legend":{"orient":"none","legendX":204,"legendY":-66,"columns":2,"title":null,"strokeColor":"#444","fillColor":"white","padding":8,"symbolType":"M-1,0H5","symbolSize":87,"symbolStrokeWidth":1.2,"labelFont":"Liberation Sans","labelFontSize":12,"labelFontWeight":"bold","labelAlign":"left","labelOffset":19,"columnPadding":20,"rowPadding":7,"labelLimit":200,"zindex":1,
"encode":{"labels":{"update":{"fill":{"scale":"color","field":"value"}}},"symbols":{"update":{"stroke":{"scale":"color","field":"value"},"strokeDash":{"scale":"strokeDash","field":"value"},"fill":{"value":"transparent"}}}}}},
"strokeDash":{"field":"s","type":"nominal","scale":{"domain":["TiO2(110)","1ML 1.9 nm","2ML 2.2 nm","3ML 3.1 nm","4ML 3.7 nm","5ML 4.4 nm","TiO2(110) ","1ML 2.0 nm","2ML 2.6 nm","3 ML 3.4 nm","4 ML 3.9 nm","5 ML 4.5 nm"],"range":[[1,0],[1,0],[1,0],[1,0],[1,0],[1,0],[2,2],[2,2],[2,2],[2,2],[2,2],[2,2]]}}
}},
{"data":{"values":[{}]},"mark":{"type":"text","align":"right","baseline":"middle","fontSize":16,"fontWeight":"bold","clip":false},
"encoding":{
"x":{"datum":964,"type":"quantitative","scale":{"domain":[270,1000],"nice":false,"zero":false},"axis":{"orient":"top","values":[300,400,500,600,700,800,900,1000],"labels":false,"title":null}},
"y":{"datum":0.0691,"type":"quantitative","scale":{"domain":[-0.02,0.078],"nice":false,"zero":false},"axis":{"orient":"left","values":[0,0.02,0.04,0.06],"labels":false,"title":null}},
"text":{"value":"s polarization"}}},
{"data":{"values":[{}]},"mark":{"type":"text","align":"center","baseline":"middle","fontSize":15,"fontWeight":"bold","clip":false},
"encoding":{
"x":{"datum":413.5,"type":"quantitative","scale":{"domain":[270,1000],"nice":false,"zero":false},"axis":null},
"y":{"datum":0.1035,"type":"quantitative","scale":{"domain":[-0.02,0.078],"nice":false,"zero":false},"axis":null},
"text":{"value":"S2"}}}
],
"resolve":{"axis":{"x":"independent","y":"independent"}}}
],
"spacing":14,
"bounds":"flush",
"resolve":{"scale":{"x":"independent","y":"independent","color":"shared","strokeDash":"shared"}}
}
